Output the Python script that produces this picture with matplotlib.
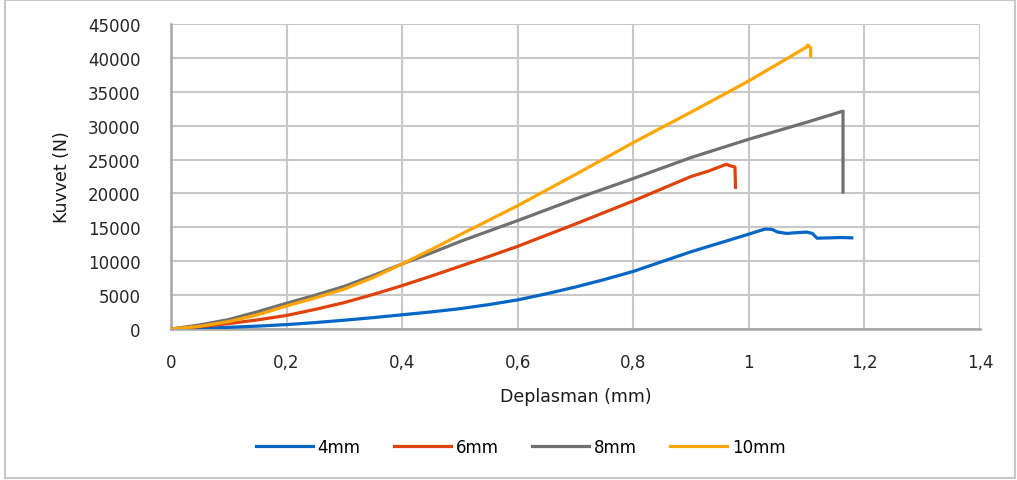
import matplotlib
matplotlib.use("Agg")
import matplotlib.pyplot as plt
from matplotlib.patches import Rectangle
from matplotlib.ticker import FuncFormatter

# force-displacement curves for each specimen thickness
x_4mm = [0, 0.05, 0.1, 0.15, 0.2, 0.25, 0.3, 0.35, 0.4, 0.45, 0.5, 0.55, 0.6, 0.65, 0.7, 0.75,
         0.8, 0.9, 1.0, 1.028, 1.04, 1.05, 1.066, 1.08, 1.10, 1.11, 1.118, 1.14, 1.16, 1.178]
y_4mm = [0, 100, 250, 430, 650, 950, 1300, 1680, 2100, 2520, 3000, 3600, 4300, 5200, 6200, 7300,
         8500, 11400, 14000, 14750, 14700, 14300, 14100, 14200, 14300, 14100, 13400, 13450, 13500, 13450]

x_6mm = [0, 0.05, 0.1, 0.15, 0.2, 0.25, 0.3, 0.35, 0.4, 0.45, 0.5, 0.55, 0.6, 0.7, 0.8, 0.9,
         0.93, 0.961, 0.967, 0.976, 0.977]
y_6mm = [0, 350, 800, 1350, 2000, 2900, 3900, 5100, 6400, 7800, 9250, 10700, 12200, 15500, 18900, 22500,
         23300, 24300, 24100, 23900, 20900]

x_8mm = [0, 0.05, 0.1, 0.15, 0.2, 0.25, 0.3, 0.35, 0.4, 0.45, 0.5, 0.6, 0.7, 0.8, 0.9, 1.0,
         1.1, 1.163, 1.163]
y_8mm = [0, 600, 1400, 2550, 3800, 5000, 6300, 7900, 9600, 11200, 12900, 16000, 19200, 22200, 25300, 28000,
         30500, 32150, 20200]

x_10mm = [0, 0.05, 0.1, 0.15, 0.2, 0.25, 0.3, 0.35, 0.4, 0.45, 0.5, 0.6, 0.7, 0.8, 0.9, 1.0,
          1.1, 1.102, 1.107, 1.107]
y_10mm = [0, 400, 1100, 2100, 3400, 4600, 5900, 7600, 9600, 11700, 13900, 18200, 22800, 27500, 32000, 36600,
          41600, 41900, 41500, 40300]

labels = ["4mm", "6mm", "8mm", "10mm"]
colors = ["#0566C6", "#E0420B", "#707070", "#FFA500"]

plt.rcParams['font.family'] = ['DejaVu Sans']

fig = plt.figure(figsize=(10.17, 4.81), dpi=100)
ax = fig.add_axes([0.1681, 0.3139, 0.7955, 0.6341])

series = [(x_4mm, y_4mm), (x_6mm, y_6mm), (x_8mm, y_8mm), (x_10mm, y_10mm)]
for (xs, ys), lab, col in zip(series, labels, colors):
    ax.plot(xs, ys, color=col, lw=2.3, label=lab, solid_joinstyle='round', zorder=3)

ax.set_xlim(0, 1.4)
ax.set_ylim(0, 45000)
ax.set_xticks([0, 0.2, 0.4, 0.6, 0.8, 1.0, 1.2, 1.4])
ax.set_yticks(range(0, 45001, 5000))
ax.xaxis.set_major_formatter(FuncFormatter(lambda v, p: ("%g" % round(v, 1)).replace(".", ",")))
ax.tick_params(length=0, labelsize=12, colors="#262626")
ax.tick_params(axis='x', pad=17)
ax.tick_params(axis='y', pad=22)

ax.grid(True, color="#C8C8C8", lw=1.5)
ax.set_axisbelow(True)
for side in ["top", "right"]:
    ax.spines[side].set_visible(False)
for side in ["left", "bottom"]:
    ax.spines[side].set_color("#A6A6A6")
    ax.spines[side].set_linewidth(1.8)

ax.set_xlabel("Deplasman (mm)", fontsize=12.5, color="#1A1A1A", labelpad=12)
ax.set_ylabel("Kuvvet (N)", fontsize=12.5, color="#1A1A1A", labelpad=12)

fig.legend(loc="center", bbox_to_anchor=(0.512, 0.068), ncol=4, frameon=False,
           fontsize=12, handlelength=3.4, handletextpad=0.3, columnspacing=2.0)

# light border around the whole chart
fig.patches.append(Rectangle((0.005, 0.004), 0.993, 0.993, transform=fig.transFigure,
                             fill=False, edgecolor="#C8C8C8", lw=1.5))

fig.savefig("out.png", dpi=100)
